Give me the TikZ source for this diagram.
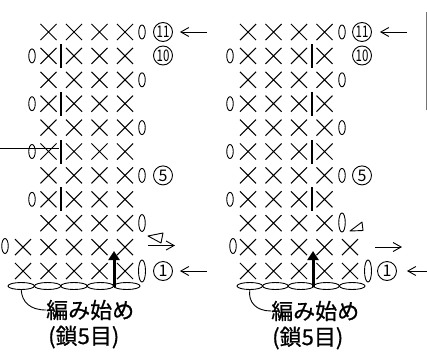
\documentclass[tikz,border=0pt]{standalone}
\usepackage{fontspec}
\newfontfamily\jp{Noto Sans CJK JP}
\newfontfamily\jpb[FakeBold=0.6]{Noto Sans CJK JP}
\usetikzlibrary{shapes.misc,shapes.geometric,arrows.meta}
\begin{document}
\begin{tikzpicture}[x=1pt,y=-1pt,
  st/.style={cross out,draw,line width=1.05pt,minimum size=15pt,inner sep=0pt},
  ch/.style={ellipse,draw,line width=0.9pt,minimum width=6.5pt,minimum height=14pt,inner sep=0pt},
  barst/.style={fill=black,minimum width=2.8pt,minimum height=24pt,inner sep=0pt},
  base/.style={ellipse,draw,line width=0.9pt,minimum height=7pt,inner sep=0pt},
  num/.style={circle,draw,line width=0.9pt,minimum size=19pt,inner sep=0pt,font=\jp\fontsize{16}{16}\selectfont},
  thinarrow/.style={line width=0.9pt,-{Straight Barb[length=8pt,width=9pt]}},
  uparrow/.style={line width=3pt,-{Triangle[length=9pt,width=11pt]}},
  lab/.style={font=\jpb\fontsize{22}{22}\selectfont,inner sep=0pt,anchor=west}
]
\useasboundingbox (0,0) rectangle (427,351);
% ---------- stitches (X) ----------
\foreach \r in {1,2}{
  \foreach \c in {1,...,5}{
    \node[st] (L\r-\c) at ({23+25.5*(\c-1)},{271-23.9*(\r-1)}) {};
    \node[st] (R\r-\c) at ({248+25.5*(\c-1)},{271-23.9*(\r-1)}) {};
  }
}
\foreach \r in {3,...,11}{
  \foreach \c in {2,...,5}{
    \node[st] (L\r-\c) at ({23+25.5*(\c-1)},{271-23.9*(\r-1)}) {};
  }
  \foreach \c in {1,...,4}{
    \node[st] (R\r-\c) at ({248+25.5*(\c-1)},{271-23.9*(\r-1)}) {};
  }
}
% ---------- chain ovals ----------
\foreach \r in {5,7,9,11}{
  \node[ch] (Lo\r) at (142,{271-23.9*(\r-1)}) {};
  \node[ch] (Ro\r) at (342,{271-23.9*(\r-1)}) {};
}
\foreach \r in {4,6,8,10}{
  \node[ch] (Lo\r) at (32,{271-23.9*(\r-1)}) {};
  \node[ch] (Ro\r) at (230,{271-23.9*(\r-1)}) {};
  \node[barst] (Lb\r) at (61,{271-23.9*(\r-1)}) {};
  \node[barst] (Rb\r) at (312,{271-23.9*(\r-1)}) {};
}
\node[ch,minimum height=17pt] (Lo3) at (142,223) {};
\node[ch,minimum height=19pt] (Ro3) at (342,222.5) {};
\node[ch,minimum height=15pt] (Lo2) at (5,246) {};
\node[ch,minimum height=15pt] (Ro2) at (233,246) {};
\node[ch,minimum height=22pt,minimum width=7pt] (Lo1) at (142,271) {};
\node[ch,minimum height=22pt,minimum width=7pt] (Ro1) at (368,271) {};
% ---------- foundation chain ----------
\foreach \i in {1,...,5}{
  \node[base,minimum width=26.4pt] (Lc\i) at ({21.2+26.4*(\i-1)},286) {};
  \node[base,minimum width=25.6pt] (Rc\i) at ({249.8+25.6*(\i-1)},286) {};
}
% ---------- row numbers ----------
\node[num] (Ln1) at (163,271) {1};
\node[num] (Ln5) at (163,175.4) {5};
\node[num] (Ln10) at (163,55.5) {\scalebox{0.72}[1]{10}};
\node[num] (Ln11) at (163,32) {\scalebox{0.72}[1]{11}};
\node[num] (Rn1) at (387,271) {1};
\node[num] (Rn5) at (362,175.4) {5};
\node[num] (Rn10) at (362,55.5) {\scalebox{0.72}[1]{10}};
\node[num] (Rn11) at (362,32) {\scalebox{0.72}[1]{11}};
% ---------- direction arrows ----------
\coordinate (La11) at (207,32);
\coordinate (La1) at (207,271);
\coordinate (Ra11) at (407,32);
\coordinate (Ra1) at (428,271);
\draw[thinarrow,shorten >=7pt] (La11) -- (Ln11);
\draw[thinarrow,shorten >=7pt] (La1) -- (Ln1);
\draw[thinarrow,shorten >=8pt] (Ra11) -- (Rn11);
\draw[thinarrow,shorten >=10pt] (Ra1) -- (Rn1);
\coordinate (Lt) at (148,245.5);
\coordinate (Lh) at (175,245.5);
\coordinate (Rt) at (375,247);
\coordinate (Rh) at (402,247);
\draw[thinarrow] (Lt) -- (Lh);
\draw[thinarrow] (Rt) -- (Rh);
% ---------- turning triangles ----------
\draw[line width=0.9pt,line join=round] (148,236) -- (163,233) -- (161,243) -- cycle;
\draw[line width=0.9pt,line join=round] (350,231) -- (362,222) -- (363,230.5) -- cycle;
% ---------- thick arrows from foundation ----------
\coordinate (Lup) at (114,251);
\coordinate (Rup) at (313,251);
\draw[uparrow] (114,287) -- (Lup);
\draw[uparrow] (313,287) -- (Rup);
% ---------- line into row 6 ----------
\coordinate (Lin) at (0,148);
\draw[line width=0.9pt] (Lin) -- (Lb6.west |- Lin);
% ---------- labels ----------
\node[lab] (Ltx1) at (46,310) {編み始め};
\node[lab] (Ltx2) at (48,337) {(鎖5目)};
\node[lab] (Rtx1) at (271,311) {編み始め};
\node[lab] (Rtx2) at (272,338) {(鎖5目)};
\draw[line width=0.9pt] (Lc1.south) .. controls (22,302) and (30,310) .. (Ltx1.west);
\draw[line width=0.9pt] (Rc1.south) .. controls (248,302) and (256,311) .. (Rtx1.west);
% ---------- edge line ----------
\coordinate (Ea) at (426,12);
\coordinate (Eb) at (426,110);
\draw[black!55,line width=1pt] (Ea) -- (Eb);
\end{tikzpicture}
\end{document}
